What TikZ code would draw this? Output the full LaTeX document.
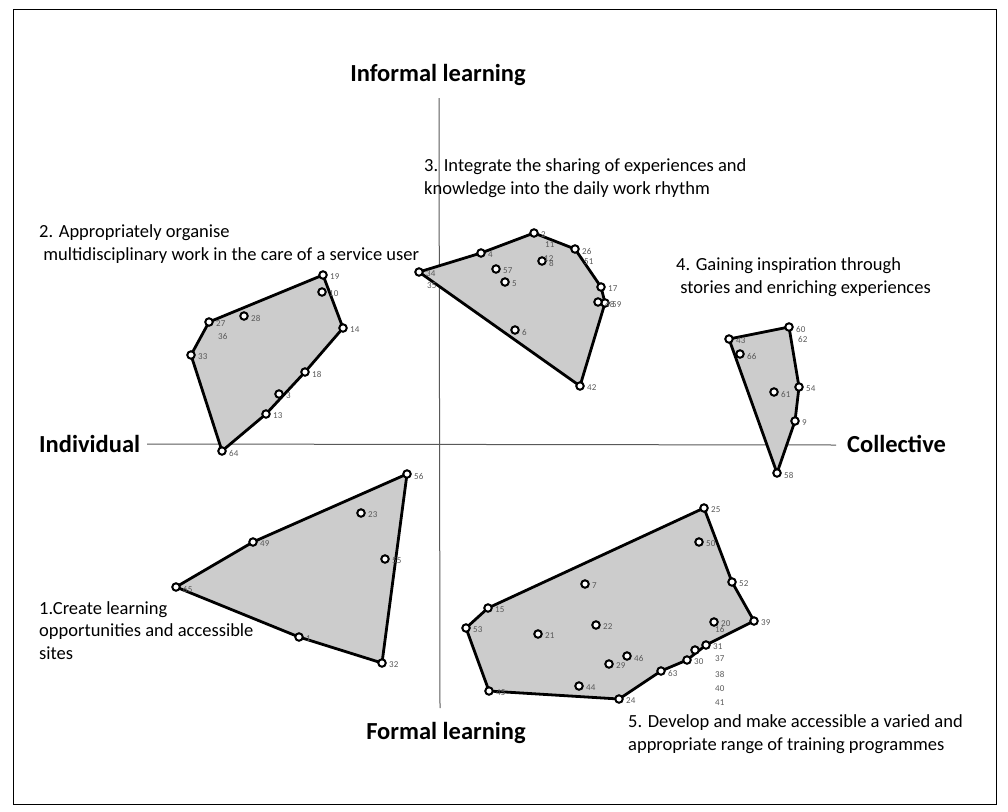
\documentclass[tikz,border=0pt]{standalone}
\usepackage{fontspec}
\setmainfont{Carlito}
\begin{document}
\begin{tikzpicture}[x=1pt,y=-1pt,
  axis/.style={draw=black!65,line width=1pt},
  axislabel/.style={font=\fontsize{24.5}{26}\selectfont\bfseries,inner sep=0pt},
  title/.style={font=\fontsize{18.5}{22.8}\selectfont,inner sep=0pt,anchor=west,align=left},
  region/.style={draw=black,line width=2.8pt,fill=black!20,line join=round},
  dot/.style={circle,draw=black,line width=2pt,fill=white,inner sep=0pt,minimum size=7.5pt},
  num/.style={font=\fontsize{9}{10}\selectfont,text=black!65,inner sep=0pt,anchor=west}]
\useasboundingbox (0,0) rectangle (1008,811);
\node[draw=black,line width=1pt,minimum width=983pt,minimum height=795pt,inner sep=0pt] (frame) at (504.5,406.5) {};

% axes
\coordinate (top) at (439,98);
\coordinate (bottom) at (440,708);
\coordinate (left) at (147,444);
\coordinate (right) at (836,445);
\draw[axis] (top) -- (bottom);
\draw[axis] (left) -- (right);
\node[axislabel] (informal) at (438,75) {Informal learning};
\node[axislabel] (formal) at (446,733) {Formal learning};
\node[axislabel,anchor=west] (individual) at (39,444) {Individual};
\node[axislabel,anchor=west] (collective) at (847,444) {Collective};

% group titles
\node[title] (t1) at (39,630.5) {1.Create learning\\opportunities and accessible\\sites};
\node[title] (t2) at (39,244) {2. Appropriately organise\\\ multidisciplinary work in the care of a service user};
\node[title] (t3) at (424,178) {3. Integrate the sharing of experiences and\\knowledge into the daily work rhythm};
\node[title] (t4) at (676,277.5) {4. Gaining inspiration through\\\ stories and enriching experiences};
\node[title] (t5) at (628,734.5) {5. Develop and make accessible a varied and\\appropriate range of training programmes};

% group 1
\coordinate (a56) at (407,474);
\coordinate (a32) at (382,663);
\coordinate (a1) at (299,637);
\coordinate (a65) at (176,587);
\coordinate (a49) at (253,542);
\coordinate (a23) at (361,513);
\coordinate (a55) at (385,559);
\draw[region] (a56) -- (a32) -- (a1) -- (a65) -- (a49) -- cycle;

% group 2
\coordinate (b19) at (323,275);
\coordinate (b14) at (343,328);
\coordinate (b18) at (305,372);
\coordinate (b3) at (279,394);
\coordinate (b13) at (266,414);
\coordinate (b64) at (222,451);
\coordinate (b33) at (191,355);
\coordinate (b27) at (209,322);
\coordinate (b10) at (322,292);
\coordinate (b28) at (244,316);
\draw[region] (b19) -- (b14) -- (b18) -- (b13) -- (b64) -- (b33) -- (b27) -- cycle;

% group 3
\coordinate (c34) at (419,272);
\coordinate (c4) at (481,253);
\coordinate (c2) at (534,233);
\coordinate (c26) at (575,249);
\coordinate (c17) at (601,287);
\coordinate (c59) at (605,303);
\coordinate (c48) at (598,302);
\coordinate (c42) at (580,386);
\coordinate (c57) at (496,269);
\coordinate (c5) at (505,282);
\coordinate (c8) at (542,261);
\coordinate (c6) at (515,330);
\draw[region] (c34) -- (c4) -- (c2) -- (c26) -- (c17) -- (c59) -- (c42) -- cycle;

% group 4
\coordinate (d43) at (729,339);
\coordinate (d60) at (789,327);
\coordinate (d54) at (799,387);
\coordinate (d9) at (795,421);
\coordinate (d58) at (777,473);
\coordinate (d66) at (740,354);
\coordinate (d61) at (774,392);
\draw[region] (d43) -- (d60) -- (d54) -- (d9) -- (d58) -- cycle;

% group 5
\coordinate (e25) at (704,508);
\coordinate (e52) at (732,582);
\coordinate (e39) at (754,621);
\coordinate (e31) at (706,645);
\coordinate (e30) at (687,660);
\coordinate (e63) at (661,671);
\coordinate (e24) at (619,699);
\coordinate (e45) at (489,691);
\coordinate (e53) at (466,628);
\coordinate (e15) at (488,608);
\coordinate (e50) at (699,542);
\coordinate (e7) at (585,584);
\coordinate (e22) at (596,625);
\coordinate (e21) at (538,634);
\coordinate (e20) at (714,622);
\coordinate (e46) at (627,656);
\coordinate (e29) at (609,664);
\coordinate (e44) at (579,686);
\coordinate (e37) at (695,650);
\draw[region] (e25) -- (e52) -- (e39) -- (e31) -- (e30) -- (e63) -- (e24) -- (e45) -- (e53) -- (e15) -- cycle;

% item markers
\foreach \p in {a56,a32,a1,a65,a49,a23,a55,
                b19,b14,b18,b3,b13,b64,b33,b27,b10,b28,
                c34,c4,c2,c26,c17,c59,c48,c42,c57,c5,c8,c6,
                d43,d60,d54,d9,d58,d66,d61,
                e25,e52,e39,e31,e30,e63,e24,e45,e53,e15,e50,e7,e22,e21,e20,e46,e29,e44,e37}
  \node[dot] (m-\p) at (\p) {};

% item numbers
\foreach \p/\t in {a56/56,a32/32,a1/1,a65/65,a49/49,a23/23,a55/55,
                   b19/19,b14/14,b18/18,b3/3,b13/13,b64/64,b33/33,b27/27,b10/10,b28/28,
                   c34/34,c4/4,c2/2,c26/26,c17/17,c59/59,c48/48,c42/42,c57/57,c5/5,c8/8,c6/6,
                   d43/43,d60/60,d54/54,d9/9,d58/58,d66/66,d61/61,
                   e25/25,e52/52,e39/39,e31/31,e30/30,e63/63,e24/24,e45/45,e53/53,e15/15,e50/50,e7/7,e22/22,e21/21,e20/20,e46/46,e29/29,e44/44}
  \node[num] (n-\p) at ([xshift=7pt,yshift=-2pt]\p) {\t};

% numbers that share a marker with another item
\node[num] (n36) at (218,336) {36};
\node[num] (n11) at (545,245) {11};
\node[num] (n51) at (584,262) {51};
\node[num] (n35) at (427,286) {35};
\node[num] (n12) at (544,259) {12};
\node[num] (n62) at (798,339) {62};
\node[num] (n16) at (715,629) {16};
\node[num] (n37) at (715,659) {37};
\node[num] (n38) at (715,674) {38};
\node[num] (n40) at (715,689) {40};
\node[num] (n41) at (715,703) {41};
\end{tikzpicture}
\end{document}
